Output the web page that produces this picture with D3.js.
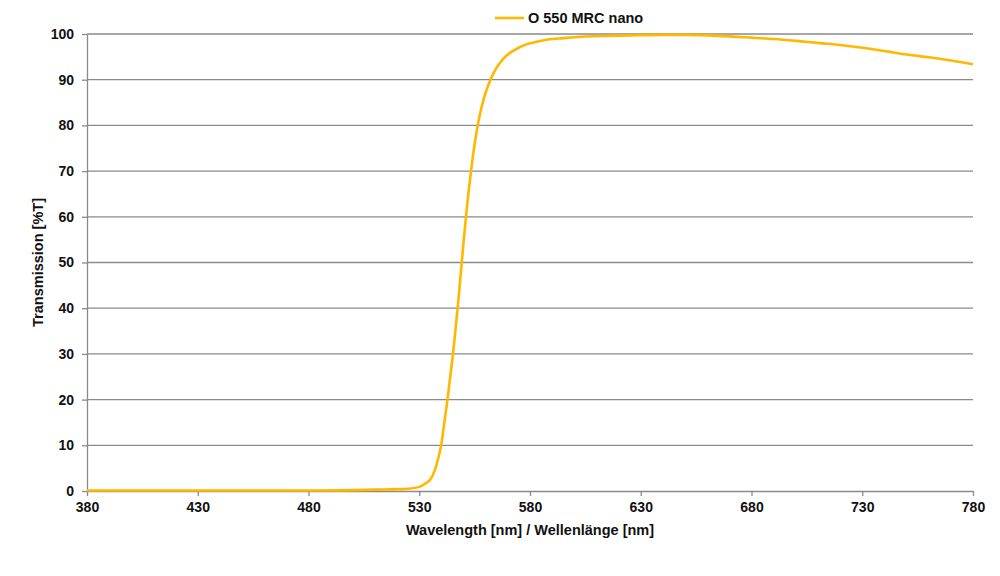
<!DOCTYPE html>
<html>
<head>
<meta charset="utf-8">
<script src="https://cdn.jsdelivr.net/npm/d3@7"></script>
<style>
  body { margin: 0; background: #fff; }
  text { font-family: "Liberation Sans", Arial, sans-serif; font-weight: bold; fill: #111; }
</style>
</head>
<body>
<div class="chart"></div>
<script>
var seriesName = "O 550 MRC nano";

var wavelengths = [380, 400, 430, 460, 480, 500, 510, 520, 525, 530, 533, 535, 537, 538, 539,
  540, 541, 542, 543, 544, 545, 546, 547, 548, 549, 550, 551, 552, 553, 554, 555, 556, 557, 558,
  559, 560, 561, 562, 564, 566, 568, 570, 572, 577, 582, 588, 595, 603, 615, 625, 640, 650, 665, 680,
  690, 700, 711, 720, 730, 741, 750, 760, 770, 780];

var transmission = [0.1, 0.1, 0.1, 0.1, 0.1, 0.2, 0.3, 0.4, 0.5, 0.9, 1.7, 2.5, 4.5, 6.1, 8.0,
  10.3, 13.8, 17.3, 21, 25, 29, 33.5, 38.5, 43.5, 49, 54.5, 59.5, 64.3, 68.5, 72.4, 75.9, 78.9, 81.5, 83.7,
  85.6, 87.2, 88.6, 89.8, 91.9, 93.4, 94.6, 95.5, 96.2, 97.5, 98.2, 98.8, 99.1, 99.4, 99.6, 99.7, 99.8, 99.8, 99.6, 99.2,
  98.9, 98.5, 98.0, 97.6, 97.0, 96.2, 95.5, 94.9, 94.2, 93.4];

var xTicks = [380, 430, 480, 530, 580, 630, 680, 730, 780];
var yTicks = [0, 10, 20, 30, 40, 50, 60, 70, 80, 90, 100];

var width = 1000, height = 576;
var margin = {left: 87, right: 27, top: 34, bottom: 85};

var svg = d3.select(".chart")
            .append("svg")
            .attr("width", width)
            .attr("height", height);

var x = d3.scaleLinear().domain([380, 780]).range([margin.left, width - margin.right]);
var y = d3.scaleLinear().domain([0, 100]).range([height - margin.bottom, margin.top]);

// gridlines
svg.selectAll("line.grid")
    .data(yTicks.filter(function(d) { return d > 0; }))
  .enter()
    .append("line")
    .attr("class", "grid")
    .attr("x1", x(380))
    .attr("x2", x(780))
    .attr("y1", function(d) { return y(d); })
    .attr("y2", function(d) { return y(d); })
    .style("stroke", "#8a8a8a")
    .style("stroke-width", 1.3);

var xAxis = svg.append("g")
    .attr("transform", "translate(0," + y(0) + ")")
    .call(d3.axisBottom(x).tickValues(xTicks).tickSize(5).tickPadding(6).tickSizeOuter(0));

var yAxis = svg.append("g")
    .attr("transform", "translate(" + x(380) + ",0)")
    .call(d3.axisLeft(y).tickValues(yTicks).tickSize(5).tickPadding(8).tickSizeOuter(0));

[xAxis, yAxis].forEach(function(a) {
    a.select(".domain").style("stroke", "#8a8a8a").style("stroke-width", 1.3);
    a.selectAll(".tick line").style("stroke", "#8a8a8a").style("stroke-width", 1.3);
    a.selectAll(".tick text")
        .style("font-family", "'Liberation Sans', Arial, sans-serif")
        .style("font-weight", "bold")
        .style("font-size", "14px")
        .style("fill", "#111");
});

var data = wavelengths.map(function(w, i) { return [w, transmission[i]]; });

var line = d3.line()
    .x(function(d) { return x(d[0]); })
    .y(function(d) { return y(d[1]); })
    .curve(d3.curveMonotoneX);

svg.append("path")
    .datum(data)
    .attr("d", line)
    .style("fill", "none")
    .style("stroke", "#FFB700")
    .style("stroke-width", 2.6);

// legend
svg.append("line")
    .attr("x1", 495).attr("x2", 524)
    .attr("y1", 18).attr("y2", 18)
    .style("stroke", "#FFB700")
    .style("stroke-width", 2.6);

svg.append("text")
    .attr("x", 528)
    .attr("y", 23)
    .style("font-size", "14.5px")
    .text(seriesName);

// axis titles
svg.append("text")
    .attr("x", 530)
    .attr("y", 535)
    .attr("text-anchor", "middle")
    .style("font-size", "14.5px")
    .text("Wavelength [nm] / Wellenlänge [nm]");

svg.append("text")
    .attr("transform", "translate(43," + y(50) + ") rotate(-90)")
    .attr("text-anchor", "middle")
    .style("font-size", "14.5px")
    .text("Transmission [%T]");
</script>
</body>
</html>
